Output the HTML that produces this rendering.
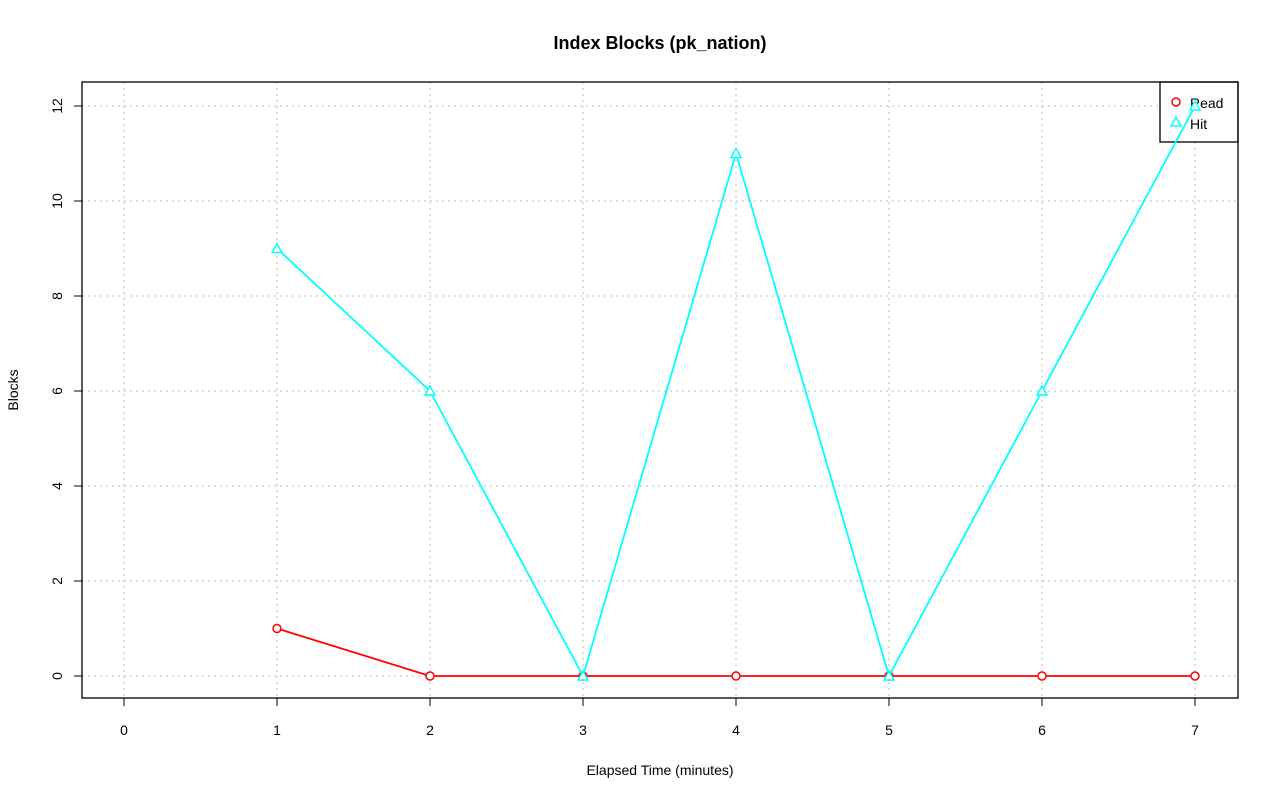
<!DOCTYPE html>
<html><head><meta charset="utf-8"><style>
body{margin:0;background:#fff}
text{font-family:"Liberation Sans",sans-serif}
</style></head><body>
<svg id="chart" width="1280" height="801" style="display:block">
<text x="660" y="49" text-anchor="middle" font-size="18" font-weight="bold">Index Blocks (pk_nation)</text>
<text x="660" y="775" text-anchor="middle" font-size="14">Elapsed Time (minutes)</text>
<text transform="translate(18,390) rotate(-90)" text-anchor="middle" font-size="14">Blocks</text>
<g id="grid"></g><g id="axes"></g>
<g>
<rect x="1160" y="82" width="78" height="60" fill="#fff" stroke="#000" stroke-width="1.3"/>
<circle cx="1176" cy="102" r="4" fill="none" stroke="#f00" stroke-width="1.5"/>
<text x="1190" y="108" font-size="14">Read</text>
<polygon points="1176,117 1181,126 1171,126" fill="none" stroke="#0ff" stroke-width="1.5"/>
<text x="1190" y="129" font-size="14">Hit</text>
</g>
<g id="series"></g>
<rect x="82" y="82" width="1156" height="616" fill="none" stroke="#000" stroke-width="1.3"/>
</svg>
<script>
const xCategories=[1,2,3,4,5,6,7];
const readValues=[1,0,0,0,0,0,0];
const hitValues=[9,6,0,11,0,6,12];
const xTicks=[0,1,2,3,4,5,6,7];
const yTicks=[0,2,4,6,8,10,12];
const NS="http://www.w3.org/2000/svg";
const X=v=>124+v*153, Y=v=>676-v*47.5;
function mk(t,a,p){const e=document.createElementNS(NS,t);for(const k in a)e.setAttribute(k,a[k]);p.appendChild(e);return e;}
const g=document.getElementById('grid'),ax=document.getElementById('axes'),s=document.getElementById('series');
xTicks.forEach(v=>{
 const l=mk('line',{x1:X(v),x2:X(v),y1:82,y2:698,stroke:'#bbb','stroke-dasharray':'2,4'},g);
 
 
 mk('line',{x1:X(v),x2:X(v),y1:698,y2:706,stroke:'#000'},ax);
 const t=mk('text',{x:X(v),y:735,'text-anchor':'middle','font-size':'14'},ax);t.textContent=v;
 
 
});
mk('line',{x1:X(0),x2:X(7),y1:698,y2:698,stroke:'#000'},ax);
yTicks.forEach(v=>{
 const l=mk('line',{x1:82,x2:1238,y1:Y(v),y2:Y(v),stroke:'#bbb','stroke-dasharray':'2,4'},g);
 
 
 mk('line',{x1:74,x2:82,y1:Y(v),y2:Y(v),stroke:'#000'},ax);
 const t=mk('text',{transform:`translate(62,${Y(v)}) rotate(-90)`,'text-anchor':'middle','font-size':'14'},ax);t.textContent=v;
 
 
});
mk('line',{x1:82,x2:82,y1:Y(0),y2:Y(12),stroke:'#000'},ax);
function series(vals,col,shape,name){
 const pl=mk('polyline',{points:vals.map((v,i)=>X(xCategories[i])+','+Y(v)).join(' '),fill:'none',stroke:col,'stroke-width':1.8},s);
 
 
 vals.forEach((v,i)=>{
  const x=X(xCategories[i]),y=Y(v);let m;
  if(shape==='c')m=mk('circle',{cx:x,cy:y,r:4,fill:'#fff',stroke:col,'stroke-width':1.5},s);
  else m=mk('polygon',{points:`${x},${y-5} ${x+5},${y+4} ${x-5},${y+4}`,fill:'#fff',stroke:col,'stroke-width':1.5},s);
  
  
 });
}
series(readValues,'#f00','c','read');
series(hitValues,'#0ff','t','hit');
</script>
</body></html>
